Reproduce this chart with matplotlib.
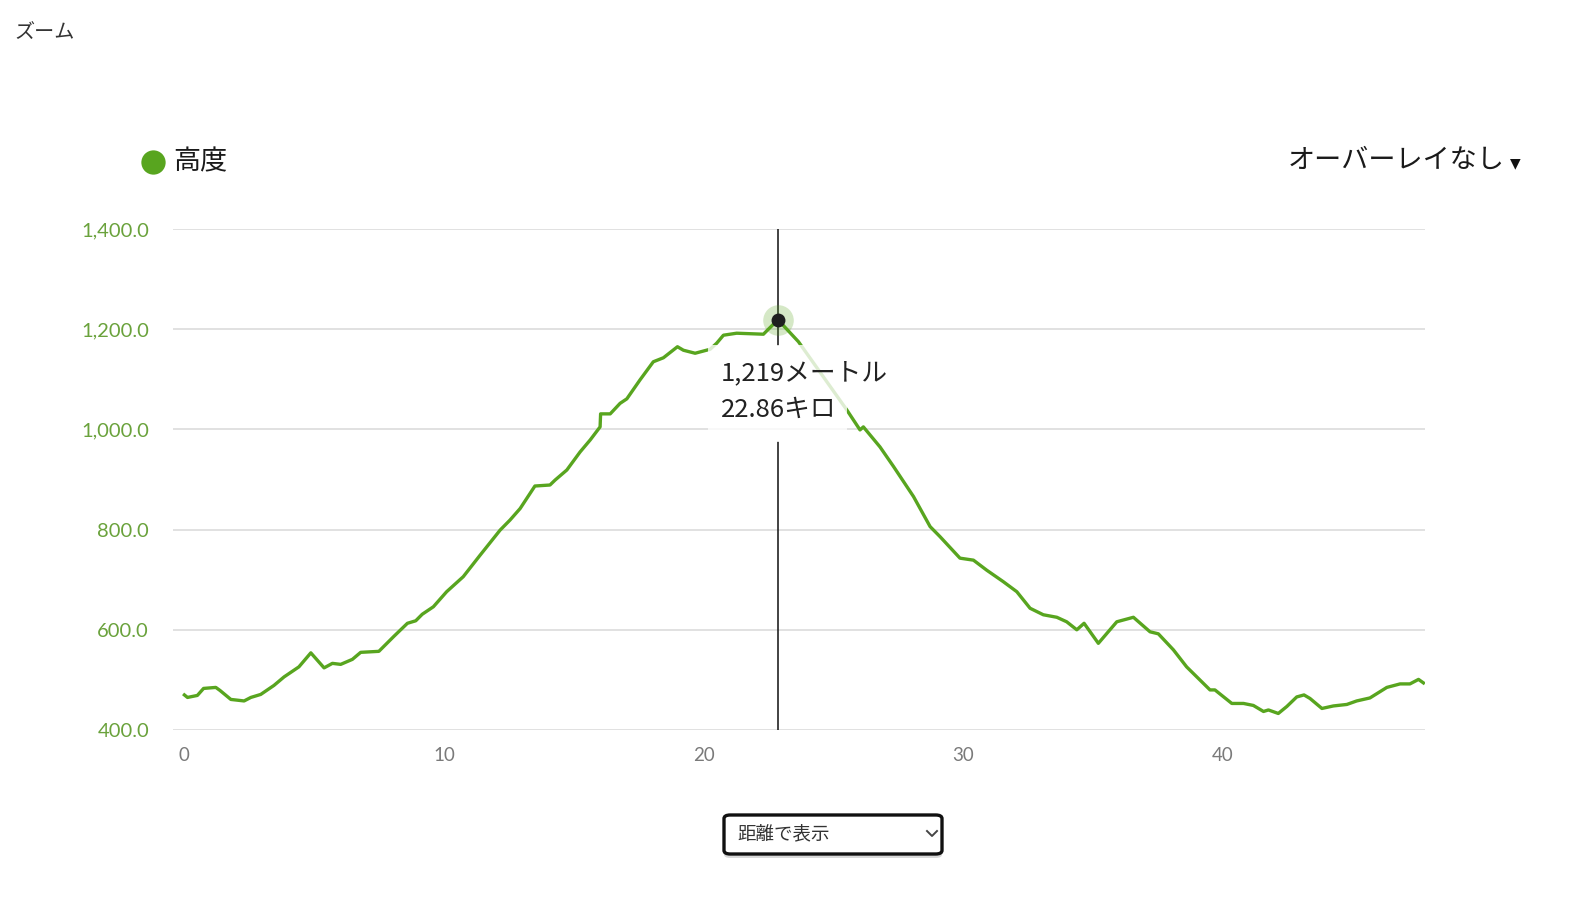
"""Elevation profile (高度) with hover tooltip, matplotlib recreation."""

import matplotlib
matplotlib.use("Agg")
import matplotlib.pyplot as plt
import matplotlib.patches as mpatches
from matplotlib.lines import Line2D

# ---- data -------------------------------------------------------------
distance_km = [
    0.00, 0.12, 0.50, 0.74, 1.21, 1.37, 1.79, 2.30, 2.56, 2.94,
    3.45, 3.84, 4.41, 4.87, 5.38, 5.70, 6.02, 6.47, 6.79, 7.49,
    8.07, 8.59, 8.91, 9.16, 9.59, 10.10, 10.74, 11.39, 12.16, 12.54,
    12.93, 13.50, 14.08, 14.28, 14.73, 15.24, 15.63, 16.01, 16.03, 16.40,
    16.78, 17.04, 17.55, 18.06, 18.45, 18.99, 19.22, 19.67, 20.25, 20.50,
    20.76, 21.27, 22.30, 22.86, 23.65, 25.51, 26.02, 26.15, 26.79, 27.31,
    28.08, 28.72, 29.10, 29.87, 30.39, 30.90, 31.54, 32.06, 32.57, 33.08,
    33.60, 33.98, 34.37, 34.65, 35.20, 35.91, 36.55, 37.19, 37.51, 38.09,
    38.60, 39.50, 39.69, 40.34, 40.79, 41.17, 41.56, 41.75, 42.13, 42.46,
    42.84, 43.12, 43.35, 43.81, 44.25, 44.77, 45.15, 45.66, 46.31, 46.82,
    47.20, 47.53, 47.72,
]
elevation_m = [
    470, 465, 469, 483, 485, 479, 461, 458, 465, 471,
    489, 506, 526, 554, 524, 533, 531, 541, 555, 557,
    587, 613, 618, 631, 646, 676, 706, 749, 799, 819,
    842, 887, 889, 899, 919, 955, 979, 1005, 1031, 1031,
    1052, 1061, 1099, 1135, 1143, 1165, 1158, 1152, 1160, 1172,
    1188, 1192, 1190, 1219, 1175, 1039, 999, 1005, 965, 926,
    866, 806, 786, 743, 739, 719, 696, 676, 643, 630,
    625, 616, 600, 613, 573, 616, 625, 596, 592, 560,
    526, 480, 480, 453, 453, 449, 437, 440, 433, 447,
    466, 470, 463, 443, 448, 451, 458, 464, 485, 492,
    492, 501, 494,
]
y_ticks = [400, 600, 800, 1000, 1200, 1400]
x_ticks = [0, 10, 20, 30, 40]

hover_km = 22.86
hover_m = 1219
tooltip_lines = ["1,219メートル", "22.86キロ"]
legend_label = "高度"
overlay_label = "オーバーレイなし"
select_label = "距離で表示"
zoom_label = "ズーム"

# ---- style -------------------------------------------------------------
W, H = 1573, 907
GREEN = "#58a51f"
TICK_GREEN = "#6aa23c"
GRID = "#dcdcdc"
JP = ["Noto Sans CJK JP", "DejaVu Sans"]


def fx(px):
    return px / W


def fy(py):
    return 1 - py / H


fig = plt.figure(figsize=(W / 100, H / 100), dpi=100, facecolor="white")
ax = fig.add_axes([fx(172.7), fy(730), fx(1425) - fx(172.7), fy(229) - fy(730)])

ax.set_xlim(-0.45, 47.78)
ax.set_ylim(400, 1400)
for s in ax.spines.values():
    s.set_visible(False)

for yt in y_ticks:
    ax.axhline(yt, color=GRID, linewidth=1.2, zorder=0.5)

ax.set_yticks(y_ticks)
ax.set_yticklabels([f"{v:,.1f}" for v in y_ticks])
ax.set_xticks(x_ticks)
ax.set_xticklabels([str(v) for v in x_ticks])
ax.tick_params(axis="y", length=0, pad=17, labelsize=14.5, labelcolor=TICK_GREEN)
ax.tick_params(axis="x", length=0, pad=12, labelsize=13.5, labelcolor="#7a7a7a")
for lbl in ax.get_yticklabels() + ax.get_xticklabels():
    lbl.set_fontfamily("Lato")

ax.plot(distance_km, elevation_m, color=GREEN, linewidth=2.4, zorder=3,
        solid_joinstyle="round")

# tooltip box (fades the line behind it)
box_x0, box_x1 = 20.17, 25.52
box_y0, box_y1 = 975, 1168
ax.add_patch(mpatches.Rectangle((box_x0, box_y0), box_x1 - box_x0, box_y1 - box_y0,
                                facecolor="white", edgecolor="none", alpha=0.8,
                                zorder=4))

# hover cursor, broken by the tooltip
ax.axvline(hover_km, ymin=0, ymax=(box_y0 - 400) / 1000, color="#222222",
           linewidth=1.2, zorder=2)
ax.axvline(hover_km, ymin=(box_y1 - 400) / 1000, ymax=1, color="#222222",
           linewidth=1.2, zorder=2)
ax.plot([hover_km], [hover_m], "o", markersize=22, color=GREEN, alpha=0.25,
        markeredgewidth=0, zorder=5)
ax.plot([hover_km], [hover_m], "o", markersize=10, color="#1e1e1e",
        markeredgewidth=0, zorder=6)

ax.text(20.66, 1113, tooltip_lines[0], fontsize=18.5, family=JP, color="#222222",
        va="center", ha="left", zorder=7)
ax.text(20.66, 1039, tooltip_lines[1], fontsize=18.5, family=JP, color="#222222",
        va="center", ha="left", zorder=7)

# ---- surrounding page elements -------------------------------------
fig.text(fx(14), fy(33), zoom_label, fontsize=14.5, family=JP, color="#333333",
         ha="left", va="center")

fig.add_artist(Line2D([fx(153)], [fy(162)], marker="o", markersize=17.5,
                      color=GREEN, markeredgewidth=0, transform=fig.transFigure))
fig.text(fx(173), fy(162), legend_label, fontsize=19.5, family=JP, color="#1a1a1a",
         ha="left", va="center")

fig.text(fx(1505), fy(160), overlay_label, fontsize=19.5, family=JP, color="#1a1a1a",
         ha="right", va="center")
fig.text(fx(1515), fy(163), "▼", fontsize=10, family=["DejaVu Sans"],
         color="#111111", ha="center", va="center")

# select box
shadow = mpatches.FancyBboxPatch((fx(724), fy(858)), fx(942) - fx(724), fy(818) - fy(858),
                                 boxstyle="round,pad=0,rounding_size=0.004",
                                 facecolor="#d8d8d8", edgecolor="none",
                                 transform=fig.transFigure)
fig.patches.append(shadow)
select = mpatches.FancyBboxPatch((fx(724), fy(854)), fx(942) - fx(724), fy(815) - fy(854),
                                 boxstyle="round,pad=0,rounding_size=0.004",
                                 facecolor="white", edgecolor="#111111",
                                 linewidth=2.4, transform=fig.transFigure)
fig.patches.append(select)
fig.text(fx(737), fy(834), select_label, fontsize=13.3, family=JP, color="#333333",
         ha="left", va="center")
fig.add_artist(Line2D([fx(927), fx(932), fx(937)], [fy(831), fy(836), fy(831)],
                      color="#444444", linewidth=1.4, transform=fig.transFigure))

fig.savefig("out.png", dpi=100, facecolor="white")
